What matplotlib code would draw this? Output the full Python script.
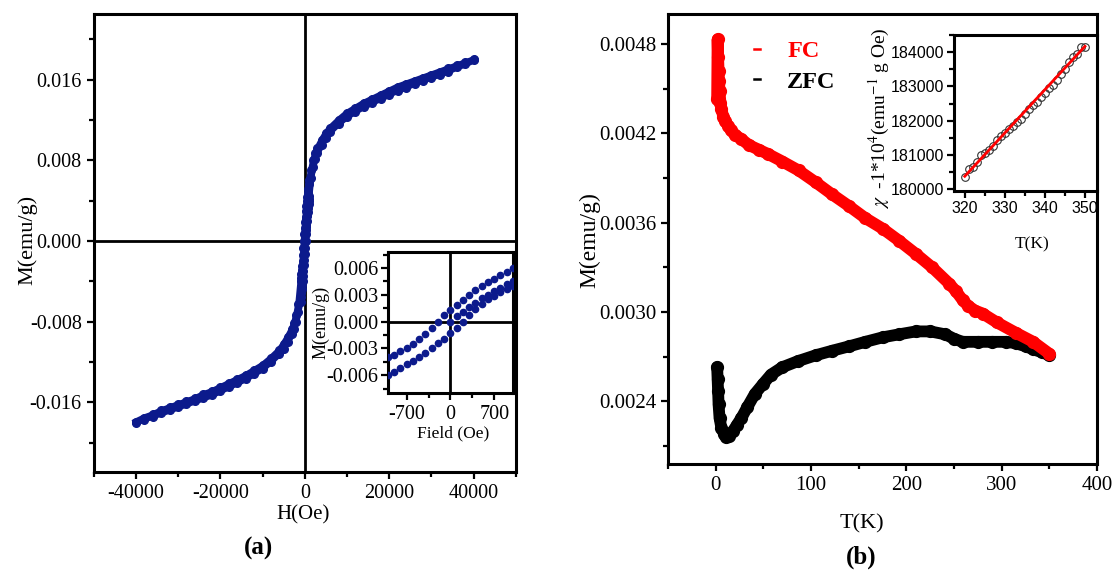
import matplotlib
matplotlib.use('Agg')
import matplotlib.pyplot as plt
from matplotlib.lines import Line2D
from matplotlib.ticker import MultipleLocator, FormatStrFormatter
import numpy as np

plt.rcParams['font.family'] = ['Liberation Serif', 'DejaVu Serif']
plt.rcParams['mathtext.fontset'] = 'stix'
plt.rcParams['axes.unicode_minus'] = False

### (a) M-H loop, positive-field part of the two branches
H_outer = [1500, 2000, 2500, 3000, 4000, 5000, 6000, 8000, 10000, 12000, 14000, 16000,
           18000, 20000, 22000, 24000, 26000, 28000, 30000, 32000, 34000, 36000, 38000, 40000]
M_upper_outer = [0.0070, 0.0080, 0.0087, 0.0092, 0.0100, 0.0107, 0.0112, 0.0120, 0.0127, 0.0132,
                 0.0137, 0.0141, 0.0145, 0.0149, 0.0153, 0.0156, 0.0159, 0.0162, 0.0165, 0.0168,
                 0.0171, 0.0174, 0.0177, 0.0180]
M_lower_outer = [0.0062, 0.0073, 0.0081, 0.0087, 0.0095, 0.0102, 0.0108, 0.0116, 0.0123, 0.0128,
                 0.0133, 0.0137, 0.0141, 0.0145, 0.0149, 0.0152, 0.0156, 0.0159, 0.0162, 0.0165,
                 0.0168, 0.0172, 0.0175, 0.0179]

### low field part (inset)
H_inset = [-1000, -900, -800, -700, -600, -500, -400, -300, -200, -100, 0,
           100, 200, 300, 400, 500, 600, 700, 800, 900, 1000]
M_inset_up = [-0.0040, -0.0037, -0.0033, -0.0029, -0.0025, -0.0020, -0.0014, -0.0007, 0.0000, 0.0007,
              0.0013, 0.0019, 0.0024, 0.0030, 0.0035, 0.0040, 0.0044, 0.0048, 0.0052, 0.0056, 0.0060]
M_inset_dn = [-0.0060, -0.0056, -0.0052, -0.0048, -0.0044, -0.0040, -0.0035, -0.0030, -0.0024, -0.0019,
              -0.0013, -0.0007, 0.0000, 0.0007, 0.0014, 0.0020, 0.0025, 0.0029, 0.0033, 0.0037, 0.0040]
H_virgin = [0, 100, 200, 300, 400, 500, 600, 700, 800, 900, 1000]
M_virgin = [0.0000, 0.0006, 0.0011, 0.0016, 0.0021, 0.0026, 0.0030, 0.0034, 0.0038, 0.0042, 0.0045]

### (b) FC / ZFC
T_fc = [1.5, 2, 2.5, 3, 3.5, 4, 5, 6, 8, 10, 13, 16, 20, 27, 35, 45, 55, 70, 87, 105, 122, 140,
        157, 175, 192, 210, 227, 245, 252, 259, 265, 272, 280, 295, 315, 333, 350]
M_fc = [0.00443, 0.00483, 0.00471, 0.00462, 0.00455, 0.00448, 0.00440, 0.00436, 0.00431, 0.00428,
        0.00425, 0.00422, 0.00419, 0.00416, 0.00412, 0.00409, 0.00406, 0.00401, 0.00395, 0.00387,
        0.00379, 0.00371, 0.00363, 0.00356, 0.00348, 0.00339, 0.00330, 0.00319, 0.00314, 0.00308,
        0.00304, 0.00301, 0.00299, 0.00293, 0.00286, 0.00280, 0.00272]
T_zfc = [1.5, 2, 2.5, 3, 4, 6, 9, 11, 14, 18, 22, 27, 33, 41, 50, 58, 70, 86, 105, 122, 140, 157,
         175, 192, 210, 225, 241, 250, 259, 275, 290, 305, 315, 325, 333, 342, 350]
M_zfc = [0.00263, 0.00255, 0.00247, 0.00238, 0.00229, 0.00222, 0.00218, 0.00216, 0.00217, 0.00220,
         0.00224, 0.00229, 0.00236, 0.00245, 0.00252, 0.00258, 0.00263, 0.00267, 0.00271, 0.00274,
         0.00277, 0.00280, 0.00283, 0.00285, 0.00287, 0.00287, 0.00285, 0.00282, 0.00280, 0.00280,
         0.00280, 0.00280, 0.00279, 0.00277, 0.00275, 0.00273, 0.00271]

### inverse susceptibility (inset b)
T_chi = [320, 321, 322, 323, 324, 325, 326, 327, 328, 329, 330, 331, 332, 333, 334, 335,
         336, 337, 338, 339, 340, 341, 342, 343, 344, 345, 346, 347, 348, 349, 350]
chi_inv = [180350, 180600, 180650, 180800, 181000, 181050, 181150, 181250, 181450, 181550,
           181650, 181750, 181850, 181950, 182050, 182200, 182350, 182450, 182550, 182700,
           182800, 182950, 183050, 183200, 183350, 183500, 183700, 183850, 183950, 184150, 184150]
T_fit = [320, 350]
chi_fit = [180380, 184170]

navy = '#0c1a8c'


def style_axes(ax, size, family=None):
    for s in ax.spines.values():
        s.set_linewidth(2.2)
    ax.tick_params(which='both', direction='out', top=False, right=False, width=1.6,
                   labelsize=size)
    ax.tick_params(which='major', length=5)
    ax.tick_params(which='minor', length=3.5)
    if family:
        for lab in ax.get_xticklabels() + ax.get_yticklabels():
            lab.set_family(family)


fig = plt.figure(figsize=(11.19, 5.74), dpi=100)

### ---- panel (a) ----
ax1 = fig.add_axes([0.0836, 0.1777, 0.3775, 0.7979])
Hp = np.array(H_outer)
# upper branch: +40000 -> -40000 ; lower branch: -40000 -> +40000 (loop symmetry)
H_up = np.concatenate([Hp[::-1], np.array(H_inset)[::-1], -Hp])
M_up = np.concatenate([np.array(M_upper_outer)[::-1], np.array(M_inset_up)[::-1],
                       -np.array(M_lower_outer)])
H_dn = np.concatenate([-Hp[::-1], H_inset, Hp])
M_dn = np.concatenate([-np.array(M_upper_outer)[::-1], M_inset_dn, M_lower_outer])
ax1.axhline(0, color='k', lw=2.0, zorder=1)
ax1.axvline(0, color='k', lw=2.0, zorder=1)
ax1.plot(H_up, M_up, 'o-', color=navy, ms=5.5, lw=4.5, zorder=3)
ax1.plot(H_dn, M_dn, 'o-', color=navy, ms=5.5, lw=4.5, zorder=3)
ax1.plot(H_virgin, M_virgin, 'o', color=navy, ms=5.5, zorder=3)
ax1.set_xlim(-50000, 50000)
ax1.set_ylim(-0.0229, 0.0225)
ax1.xaxis.set_major_locator(MultipleLocator(20000))
ax1.xaxis.set_minor_locator(MultipleLocator(10000))
ax1.yaxis.set_major_locator(MultipleLocator(0.008))
ax1.yaxis.set_minor_locator(MultipleLocator(0.004))
ax1.yaxis.set_major_formatter(FormatStrFormatter('%.3f'))
style_axes(ax1, 14.5)

fig.text(0.025, 0.582, 'M(emu/g)', rotation=90, ha='center', va='center', fontsize=16)
fig.text(0.2708, 0.1028, 'H(Oe)', ha='center', va='center', fontsize=15)
fig.text(0.2306, 0.045, '(a)', ha='center', va='center', fontsize=18, fontweight='bold')

### inset (a)
ax2 = fig.add_axes([0.3467, 0.3153, 0.1117, 0.2456])
ax2.axhline(0, color='k', lw=2.0, zorder=1)
ax2.axvline(0, color='k', lw=2.0, zorder=1)
ax2.plot(H_inset, M_inset_up, 'o', color=navy, ms=4.5, zorder=3)
ax2.plot(H_inset, M_inset_dn, 'o', color=navy, ms=4.5, zorder=3)
ax2.plot(H_virgin, M_virgin, 'o', color=navy, ms=4.5, zorder=3)
ax2.set_xlim(-1000, 1000)
ax2.set_ylim(-0.008, 0.0078)
ax2.xaxis.set_major_locator(MultipleLocator(700))
ax2.xaxis.set_minor_locator(MultipleLocator(350))
ax2.yaxis.set_major_locator(MultipleLocator(0.003))
ax2.yaxis.set_minor_locator(MultipleLocator(0.0015))
ax2.yaxis.set_major_formatter(FormatStrFormatter('%.3f'))
style_axes(ax2, 14.5)
ax2.tick_params(axis='y', pad=2)
fig.text(0.2865, 0.439, 'M(emu/g)', rotation=90, ha='center', va='center', fontsize=13)
fig.text(0.405, 0.2456, 'Field (Oe)', ha='center', va='center', fontsize=12.5)

### ---- panel (b) ----
ax3 = fig.add_axes([0.597, 0.1916, 0.3834, 0.784])
ax3.plot(T_zfc, M_zfc, 'o-', color='black', ms=8.5, lw=8.5, solid_capstyle='round', zorder=2)
ax3.plot(T_fc, M_fc, 'o-', color='red', ms=8.5, lw=8.5, solid_capstyle='round', zorder=3)
ax3.set_xlim(-50, 400)
ax3.set_ylim(0.00198, 0.0050)
ax3.xaxis.set_major_locator(MultipleLocator(100))
ax3.xaxis.set_minor_locator(MultipleLocator(50))
ax3.yaxis.set_major_locator(MultipleLocator(0.0006))
ax3.yaxis.set_minor_locator(MultipleLocator(0.0003))
ax3.yaxis.set_major_formatter(FormatStrFormatter('%.4f'))
style_axes(ax3, 15)

handles = [Line2D([0], [0], color='red', lw=1.8), Line2D([0], [0], color='black', lw=1.8)]
ax3.legend(handles, ['FC', 'ZFC'], loc='upper left', bbox_to_anchor=(0.15, 0.99),
           frameon=False, handlelength=0.25, handletextpad=1.1, labelspacing=0.35,
           labelcolor=['red', 'black'], prop={'family': 'Liberation Serif', 'size': 17.5,
                                              'weight': 'bold'})

fig.text(0.527, 0.582, 'M(emu/g)', rotation=90, ha='center', va='center', fontsize=17)
fig.text(0.770, 0.0871, 'T(K)', ha='center', va='center', fontsize=16)
fig.text(0.770, 0.0296, '(b)', ha='center', va='center', fontsize=18, fontweight='bold')

### inset (b)
ax4 = fig.add_axes([0.8525, 0.6672, 0.1278, 0.2718])
ax4.plot(T_chi, chi_inv, 'o', mfc='none', mec='#333333', ms=5.5, mew=0.8, zorder=2)
ax4.plot(T_fit, chi_fit, '-', color='red', lw=2.0, zorder=3)
ax4.set_xlim(317.3, 353)
ax4.set_ylim(179950, 184500)
ax4.xaxis.set_major_locator(MultipleLocator(10))
ax4.xaxis.set_minor_locator(MultipleLocator(5))
ax4.yaxis.set_major_locator(MultipleLocator(1000))
ax4.yaxis.set_minor_locator(MultipleLocator(500))
style_axes(ax4, 11.5, family='Liberation Sans')
ax4.tick_params(axis='both', pad=2)
fig.text(0.922, 0.575, 'T(K)', ha='center', va='center', fontsize=12.5)
fig.text(0.786, 0.795, r'$\chi$  -1*10$^{4}$(emu$^{-1}$ g Oe)', rotation=90,
         ha='center', va='center', fontsize=14)

fig.savefig('out.png', dpi=100)
